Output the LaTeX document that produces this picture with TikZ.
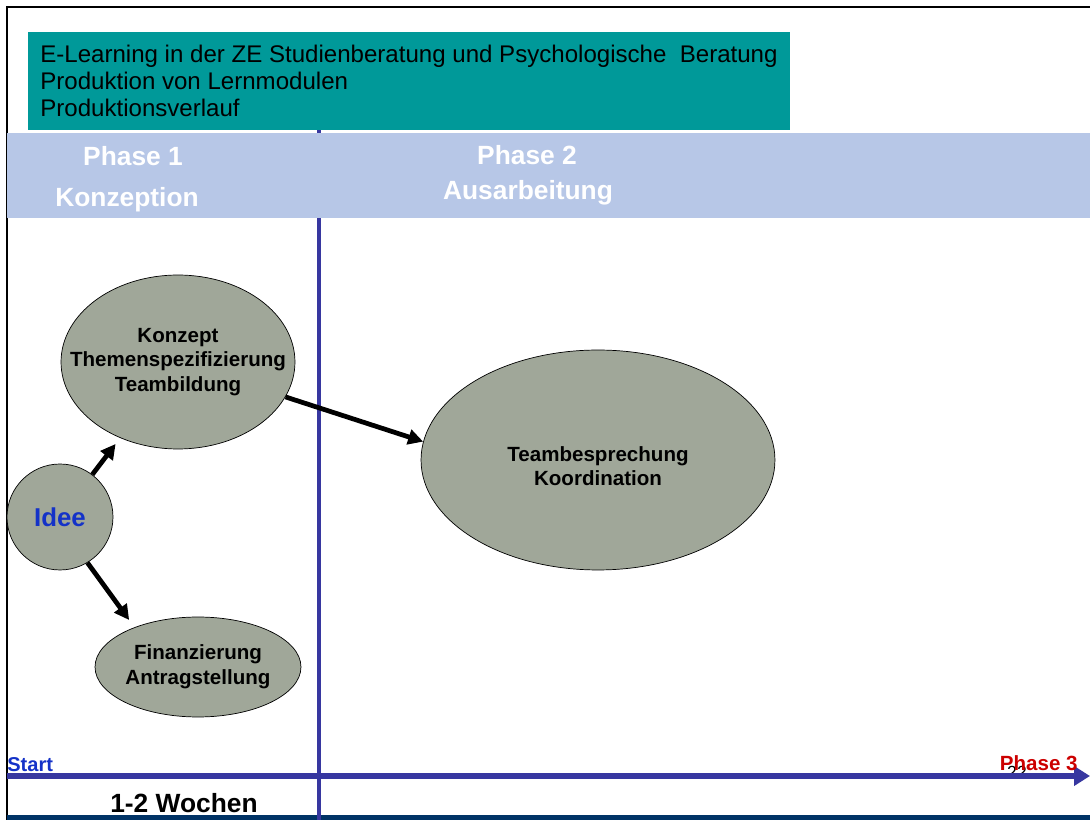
\documentclass[tikz,border=0pt]{standalone}
\usepackage{fontspec}
\setmainfont{Liberation Sans}
\usetikzlibrary{arrows.meta,shapes.geometric}

\definecolor{titelgruen}{RGB}{0,153,153}
\definecolor{phasenblau}{RGB}{183,199,231}
\definecolor{linienblau}{RGB}{55,55,160}
\definecolor{knotengrau}{RGB}{160,167,153}
\definecolor{ideeblau}{RGB}{20,50,200}
\definecolor{phaserot}{RGB}{204,0,0}
\definecolor{fussblau}{RGB}{0,51,102}

\tikzset{
  ablauf/.style={ellipse, draw, fill=knotengrau, inner sep=0pt},
  ablauftext/.style={align=center, font=\fontsize{11.7}{14}\selectfont\bfseries},
  phase/.style={anchor=base, text=white, font=\fontsize{15}{18}\selectfont\bfseries},
  pfeil/.style={-{Triangle[length=0.3cm, width=0.3cm]}, line width=2.7pt},
  zeitachse/.style={-{Triangle[length=0.32cm, width=0.38cm]}, line width=3.3pt, linienblau},
}

\begin{document}
\begin{tikzpicture}[x=0.02cm, y=-0.02cm]
  \useasboundingbox (0,0) rectangle (1090,820);

  % Rahmen und Fusszeile
  \draw[line width=1.2pt] (7,820) -- (7,7) -- (1090,7);
  \fill[fussblau] (7,815) rectangle (1090,820);

  % Trennlinie zwischen Phase 1 und Phase 2
  \coordinate (trennOben)  at (319,130);
  \coordinate (trennUnten) at (319,820);
  \draw[linienblau, line width=2.7pt] (trennOben) -- (trennUnten);

  % Titelkasten
  \fill[titelgruen] (28,32) rectangle (790,130);
  \node[anchor=north west, inner sep=0pt, align=left,
        font=\fontsize{13.7}{15.4}\selectfont] (titel) at (40,45)
    {E-Learning in der ZE Studienberatung und Psychologische~ Beratung\\
     Produktion von Lernmodulen\\Produktionsverlauf};

  % Phasenleiste
  \fill[phasenblau] (7,133) rectangle (1090,218);
  \node[phase] (phase1) at (133,166) {Phase 1};
  \node[phase] (konzeption) at (127,207) {Konzeption};
  \node[phase] (phase2) at (527,165) {Phase 2};
  \node[phase] (ausarbeitung) at (528,200) {Ausarbeitung};

  % Ablaufschritte
  \node[ablauf, minimum width=2.12cm, minimum height=2.12cm,
        label={[text=ideeblau, font=\fontsize{14.7}{17}\selectfont\bfseries]center:Idee}]
    (idee) at (60,517) {};
  \node[ablauf, minimum width=4.68cm, minimum height=3.48cm,
        label={[ablauftext]center:{Konzept\\Themenspezifizierung\\Teambildung}}]
    (konzept) at (178,362) {};
  \node[ablauf, minimum width=4.12cm, minimum height=2cm,
        label={[ablauftext]center:{Finanzierung\\Antragstellung}}]
    (finanz) at (198,667) {};
  \node[ablauf, minimum width=7.08cm, minimum height=4.4cm,
        label={[ablauftext, yshift=-0.12cm]center:{Teambesprechung\\Koordination}}]
    (team) at (598,460) {};

  % Verbindungen
  \draw[pfeil, shorten >=0.15cm] (idee) -- (konzept);
  \draw[pfeil, shorten >=0.18cm] (idee.-59) -- (finanz.148);
  \draw[pfeil] (konzept.-18) -- (team.174);

  % Zeitachse
  \node[anchor=base, font=\fontsize{10}{12}\selectfont] (seite) at (1017,779) {22};
  \coordinate (achseStart) at (7,776);
  \coordinate (achseEnde)  at (1090,776);
  \draw[zeitachse] (achseStart) -- (achseEnde);
  \node[anchor=base west, inner sep=0pt, text=ideeblau,
        font=\fontsize{11.4}{13}\selectfont\bfseries] (start) at (7,772) {Start};
  \node[anchor=base east, inner sep=0pt, text=phaserot,
        font=\fontsize{11.7}{13}\selectfont\bfseries] (phase3) at (1078,771) {Phase 3};
  \node[anchor=base, font=\fontsize{15}{18}\selectfont\bfseries] (dauer) at (184,813) {1-2 Wochen};
\end{tikzpicture}
\end{document}
